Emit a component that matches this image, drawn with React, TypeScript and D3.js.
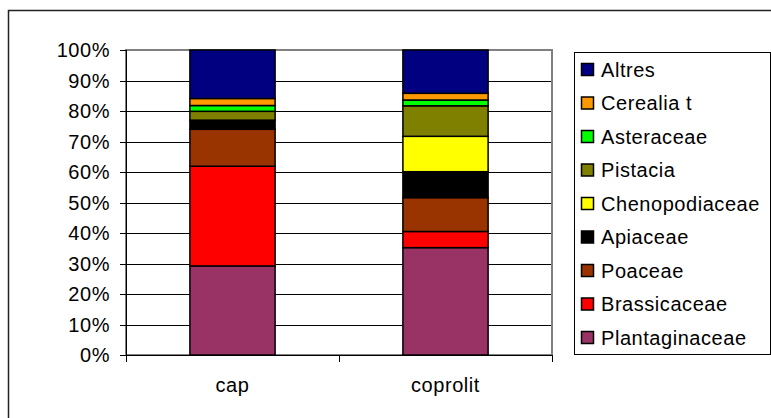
import React from "react";
import * as d3 from "d3";

// Pollen composition per sample (percent of total), bottom to top of each stack
const samples = ["cap", "coprolit"];
const taxa = [
  "Plantaginaceae",
  "Brassicaceae",
  "Poaceae",
  "Apiaceae",
  "Chenopodiaceae",
  "Pistacia",
  "Asteraceae",
  "Cerealia t",
  "Altres",
];
const capValues = [29.2, 32.7, 12.1, 3.0, 0, 2.9, 1.9, 2.3, 15.9];
const coprolitValues = [35.2, 5.3, 11.1, 8.5, 11.6, 10.0, 1.9, 2.2, 14.2];
const taxaColors = [
  "#993366",
  "#FF0000",
  "#993300",
  "#000000",
  "#FFFF00",
  "#808000",
  "#00FF00",
  "#FF9900",
  "#000080",
];
const yTicks = [0, 0.1, 0.2, 0.3, 0.4, 0.5, 0.6, 0.7, 0.8, 0.9, 1];

const FONT = "'Liberation Sans', Arial, sans-serif";
const LS = 0.55;

export default function App() {
  const W = 771;
  const H = 418;
  const plot = { left: 126, right: 552, top: 50, bottom: 355 };

  const rows = samples.map((s, i) => {
    const vals = i === 0 ? capValues : coprolitValues;
    const total = d3.sum(vals);
    const row: Record<string, any> = { sample: s };
    taxa.forEach((t, j) => (row[t] = vals[j] / total));
    return row;
  });

  const stacked = d3.stack<any>().keys(taxa)(rows);

  const x = d3
    .scaleBand<string>()
    .domain(samples)
    .range([plot.left, plot.right])
    .paddingInner(0.6)
    .paddingOuter(0.3);
  const y = d3.scaleLinear().domain([0, 1]).range([plot.bottom, plot.top]);
  const color = d3.scaleOrdinal<string, string>().domain(taxa).range(taxaColors);

  // category boundaries for x-axis ticks
  const xTickPos = samples
    .map((_, i) => plot.left + (i * (plot.right - plot.left)) / samples.length)
    .concat([plot.right]);

  const legend = { x: 574, y: 52, w: 196, h: 302 };
  const legendOrder = [...taxa].reverse();
  const itemGap = 33.5;
  const firstItemY = 69.5;

  return (
    <svg
      width={W}
      height={H}
      style={{ position: "absolute", left: 0, top: 0, background: "#fff" }}
      fontFamily={FONT}
    >
      <rect x={0} y={0} width={W} height={H} fill="#fff" />
      {/* chart area border */}
      <rect
        x={8.5}
        y={10.5}
        width={820}
        height={480}
        fill="none"
        stroke="#222"
        strokeWidth={1.5}
      />

      {/* gridlines */}
      {yTicks.slice(1, -1).map((t) => (
        <line
          key={t}
          x1={plot.left}
          x2={plot.right}
          y1={Math.round(y(t)) + 0.5}
          y2={Math.round(y(t)) + 0.5}
          stroke="#000"
          strokeWidth={1}
        />
      ))}
      {/* plot area border */}
      <rect
        x={plot.left}
        y={plot.top}
        width={plot.right - plot.left}
        height={plot.bottom - plot.top}
        fill="none"
        stroke="#808080"
        strokeWidth={2}
      />

      {/* stacked bars */}
      {stacked.map((layer) =>
        layer.map((d, i) => {
          const y0 = y(d[0]);
          const y1 = y(d[1]);
          if (y0 - y1 < 0.01) return null;
          return (
            <rect
              key={layer.key + i}
              x={x(samples[i])!}
              y={y1}
              width={x.bandwidth()}
              height={y0 - y1}
              fill={color(layer.key)}
              stroke="#000"
              strokeWidth={1.5}
            />
          );
        })
      )}

      {/* y axis */}
      <line
        x1={plot.left + 0.5}
        x2={plot.left + 0.5}
        y1={plot.top}
        y2={plot.bottom}
        stroke="#000"
        strokeWidth={1}
      />
      {yTicks.map((t) => (
        <g key={t}>
          <line
            x1={plot.left - 6}
            x2={plot.left}
            y1={Math.round(y(t)) + 0.5}
            y2={Math.round(y(t)) + 0.5}
            stroke="#000"
          />
          <text
            x={110}
            y={y(t)}
            textAnchor="end"
            dominantBaseline="central"
            fontSize={20}
            letterSpacing={LS}
            fill="#000"
          >
            {d3.format(".0%")(t)}
          </text>
        </g>
      ))}

      {/* x axis */}
      <line
        x1={plot.left}
        x2={plot.right}
        y1={plot.bottom + 0.5}
        y2={plot.bottom + 0.5}
        stroke="#000"
        strokeWidth={1}
      />
      {xTickPos.map((p) => (
        <line
          key={p}
          x1={Math.round(p) + 0.5}
          x2={Math.round(p) + 0.5}
          y1={plot.bottom}
          y2={plot.bottom + 7}
          stroke="#000"
        />
      ))}
      {samples.map((s) => (
        <text
          key={s}
          x={x(s)! + x.bandwidth() / 2}
          y={392}
          textAnchor="middle"
          fontSize={20}
          letterSpacing={LS}
          fill="#000"
        >
          {s}
        </text>
      ))}

      {/* legend */}
      <rect
        x={legend.x + 0.5}
        y={legend.y + 0.5}
        width={legend.w}
        height={legend.h}
        fill="#fff"
        stroke="#000"
        strokeWidth={1}
      />
      {legendOrder.map((t, i) => {
        const cy = firstItemY + i * itemGap;
        return (
          <g key={t}>
            <rect
              x={581.5}
              y={cy - 6}
              width={12}
              height={12}
              fill={color(t)}
              stroke="#000"
              strokeWidth={1.5}
            />
            <text
              x={601}
              y={cy}
              dominantBaseline="central"
              fontSize={20}
              letterSpacing={LS}
              fill="#000"
            >
              {t}
            </text>
          </g>
        );
      })}
    </svg>
  );
}
